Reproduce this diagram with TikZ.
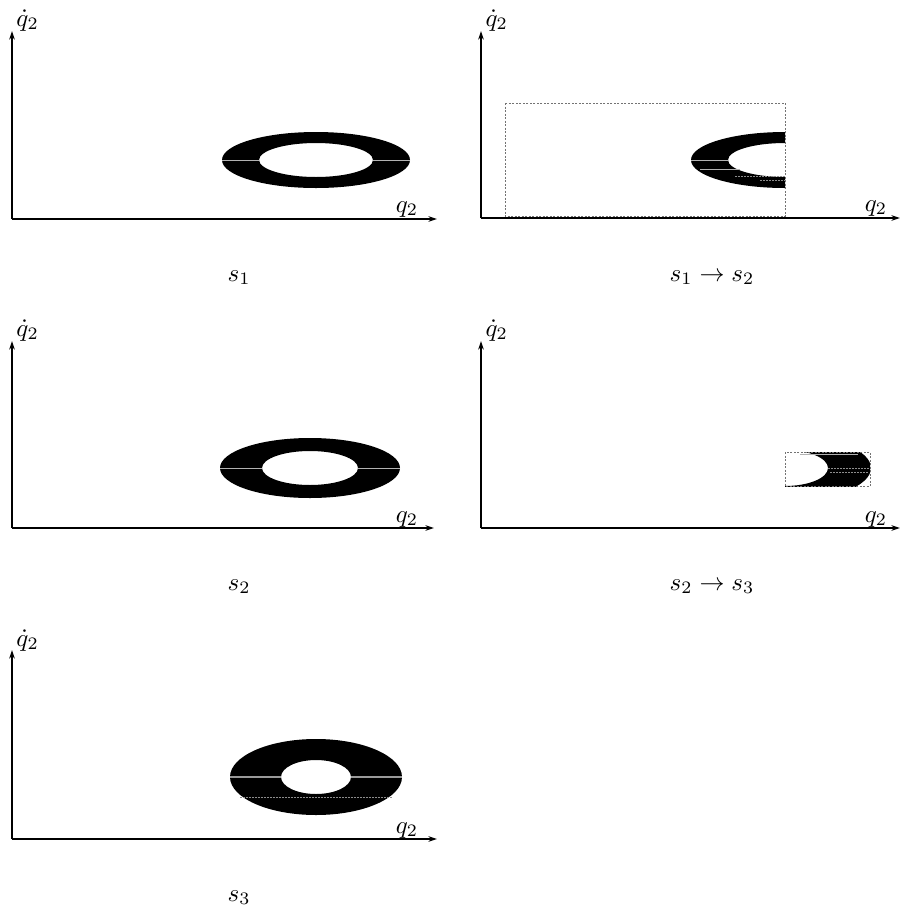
\documentclass[tikz,border=0pt]{standalone}
\usetikzlibrary{arrows.meta}
\begin{document}
\begin{tikzpicture}[x=0.4pt,y=-0.4pt,
  axis/.style={line width=0.5pt,-{Stealth[length=3.4pt,width=2.2pt]}},
  ringfill/.style={fill=black,even odd rule},
  seam/.style={draw=black!30,line width=0.35pt},
  seamdot/.style={draw=black!45,line width=0.3pt,dash pattern=on 0.6pt off 0.6pt},
  box/.style={draw=black!55,line width=0.3pt,dash pattern=on 0.8pt off 0.6pt},
  lab/.style={inner sep=0pt,font=\normalsize},
  caption/.style={inner sep=0pt,font=\normalsize}]
\useasboundingbox (0,0) rectangle (900,908);

% ---------- panel 1 : s1
\coordinate (o1) at (12,219);
\coordinate (y1) at (12,31);
\coordinate (x1) at (437,219);
\fill[ringfill] (316,160) ellipse [x radius=94,y radius=28] (316,160) ellipse [x radius=57,y radius=17];
\draw[seam] (222,160) -- (259,160) (373,160) -- (410,160);
\draw[axis] (o1) -- (y1);
\draw[axis] (o1) -- (x1);
\node[lab,anchor=base west] (ly1) at (16,26) {$\dot q_2$};
\node[lab,anchor=base] (lx1) at (407,212) {$q_2$};
\node[caption,anchor=base] (c1) at (239,281) {$s_1$};

% ---------- panel 2 : s1 -> s2
\coordinate (o2) at (481,218);
\coordinate (y2) at (481,31);
\coordinate (x2) at (900,218);
\begin{scope}
\clip (505,103) rectangle (785,216);
\fill[ringfill] (785,160) ellipse [x radius=94,y radius=28] (785,160) ellipse [x radius=57,y radius=17];
\end{scope}
\draw[seam] (691,160) -- (728,160) (700,169) -- (740,169);
\draw[seamdot] (735,176) -- (785,176) (760,180) -- (785,180);
\draw[box] (505,103) rectangle (785,216);
\draw[axis] (o2) -- (y2);
\draw[axis] (o2) -- (x2);
\node[lab,anchor=base west] (ly2) at (485,26) {$\dot q_2$};
\node[lab,anchor=base] (lx2) at (876,211) {$q_2$};
\node[caption,anchor=base] (c2) at (712,281) {$s_1\rightarrow s_2$};

% ---------- panel 3 : s2
\coordinate (o3) at (12,528);
\coordinate (y3) at (12,341);
\coordinate (x3) at (434,528);
\fill[ringfill] (310,468) ellipse [x radius=90,y radius=30] (310,468) ellipse [x radius=48,y radius=17];
\draw[seam] (220,468) -- (262,468) (358,468) -- (400,468);
\draw[axis] (o3) -- (y3);
\draw[axis] (o3) -- (x3);
\node[lab,anchor=base west] (ly3) at (16,336) {$\dot q_2$};
\node[lab,anchor=base] (lx3) at (407,522) {$q_2$};
\node[caption,anchor=base] (c3) at (239,590) {$s_2$};

% ---------- panel 4 : s2 -> s3
\coordinate (o4) at (481,528);
\coordinate (y4) at (481,341);
\coordinate (x4) at (900,528);
\begin{scope}
\clip (785,452) rectangle (870,486);
\fill[ringfill] (785,468) ellipse [x radius=86,y radius=33] (785,468) ellipse [x radius=43,y radius=18];
\end{scope}
\draw[seam] (800,454.5) -- (858,454.5);
\draw[seamdot] (828,468) -- (869,468) (830,472) -- (869,472);
\draw[box] (785,452) rectangle (870,486);
\draw[axis] (o4) -- (y4);
\draw[axis] (o4) -- (x4);
\node[lab,anchor=base west] (ly4) at (485,336) {$\dot q_2$};
\node[lab,anchor=base] (lx4) at (876,522) {$q_2$};
\node[caption,anchor=base] (c4) at (712,590) {$s_2\rightarrow s_3$};

% ---------- panel 5 : s3
\coordinate (o5) at (12,839);
\coordinate (y5) at (12,650);
\coordinate (x5) at (437,839);
\fill[ringfill] (316,777) ellipse [x radius=86,y radius=38] (316,777) ellipse [x radius=35,y radius=17];
\draw[seam,draw=black!40,line width=0.6pt] (230,777) -- (281,777) (351,777) -- (402,777);
\draw[seamdot] (240,797) -- (393,797);
\draw[axis] (o5) -- (y5);
\draw[axis] (o5) -- (x5);
\node[lab,anchor=base west] (ly5) at (16,646) {$\dot q_2$};
\node[lab,anchor=base] (lx5) at (407,833) {$q_2$};
\node[caption,anchor=base] (c5) at (239,901) {$s_3$};
\end{tikzpicture}
\end{document}
